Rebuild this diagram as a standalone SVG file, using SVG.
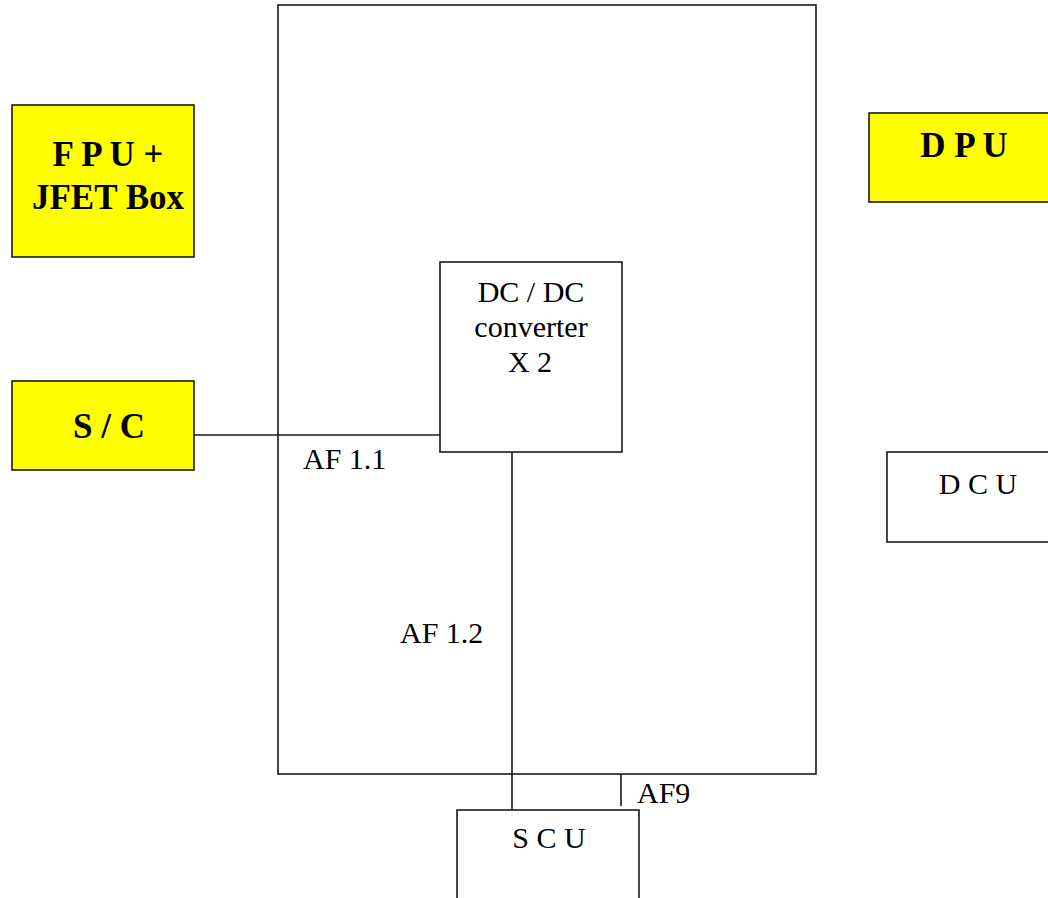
<svg xmlns="http://www.w3.org/2000/svg" width="1048" height="898" viewBox="0 0 1048 898">
<style>
.box{fill:#ffffff;stroke:#1a1a1a;stroke-width:1.6}
.ybox{fill:#ffff00;stroke:#1a1a1a;stroke-width:1.6}
.ln{fill:none;stroke:#1a1a1a;stroke-width:1.6}
.t{font-family:"Liberation Serif","Times New Roman",serif;font-size:30px;fill:#000}
.b{font-family:"Liberation Serif","Times New Roman",serif;font-size:35px;font-weight:bold;fill:#000}
</style>
<rect width="1048" height="898" fill="#ffffff"/>
<g id="main-box"><rect class="box" x="278" y="5" width="538" height="769"/></g>
<g id="fpu"><rect class="ybox" x="12" y="105" width="182" height="152"/>
<text class="b" x="108" y="166" text-anchor="middle">F P U +</text>
<text class="b" x="108" y="209" text-anchor="middle">JFET Box</text></g>
<g id="dpu"><rect class="ybox" x="869" y="113" width="190" height="89"/>
<text class="b" x="964" y="157" text-anchor="middle">D P U</text></g>
<g id="sc"><rect class="ybox" x="12" y="381" width="182" height="89"/>
<text class="b" x="109" y="438" text-anchor="middle">S / C</text></g>
<g id="dcdc"><rect class="box" x="440" y="262" width="182" height="190"/>
<text class="t" x="531" y="302" text-anchor="middle">DC / DC</text>
<text class="t" x="531" y="337" text-anchor="middle">converter</text>
<text class="t" x="530" y="372" text-anchor="middle">X 2</text></g>
<g id="dcu"><rect class="box" x="887" y="452" width="170" height="90"/>
<text class="t" x="978" y="494" text-anchor="middle">D C U</text></g>
<g id="scu"><rect class="box" x="457" y="810" width="182" height="100"/>
<text class="t" x="549" y="848" text-anchor="middle">S C U</text></g>
<g id="connectors">
<line class="ln" x1="194" y1="435" x2="440" y2="435"/>
<line class="ln" x1="512" y1="452" x2="512" y2="810"/>
<line class="ln" x1="621" y1="774" x2="621" y2="806"/>
</g>
<g id="labels">
<text class="t" x="303" y="469">AF 1.1</text>
<text class="t" x="400" y="643">AF 1.2</text>
<text class="t" x="637" y="803">AF9</text>
</g>
</svg>
